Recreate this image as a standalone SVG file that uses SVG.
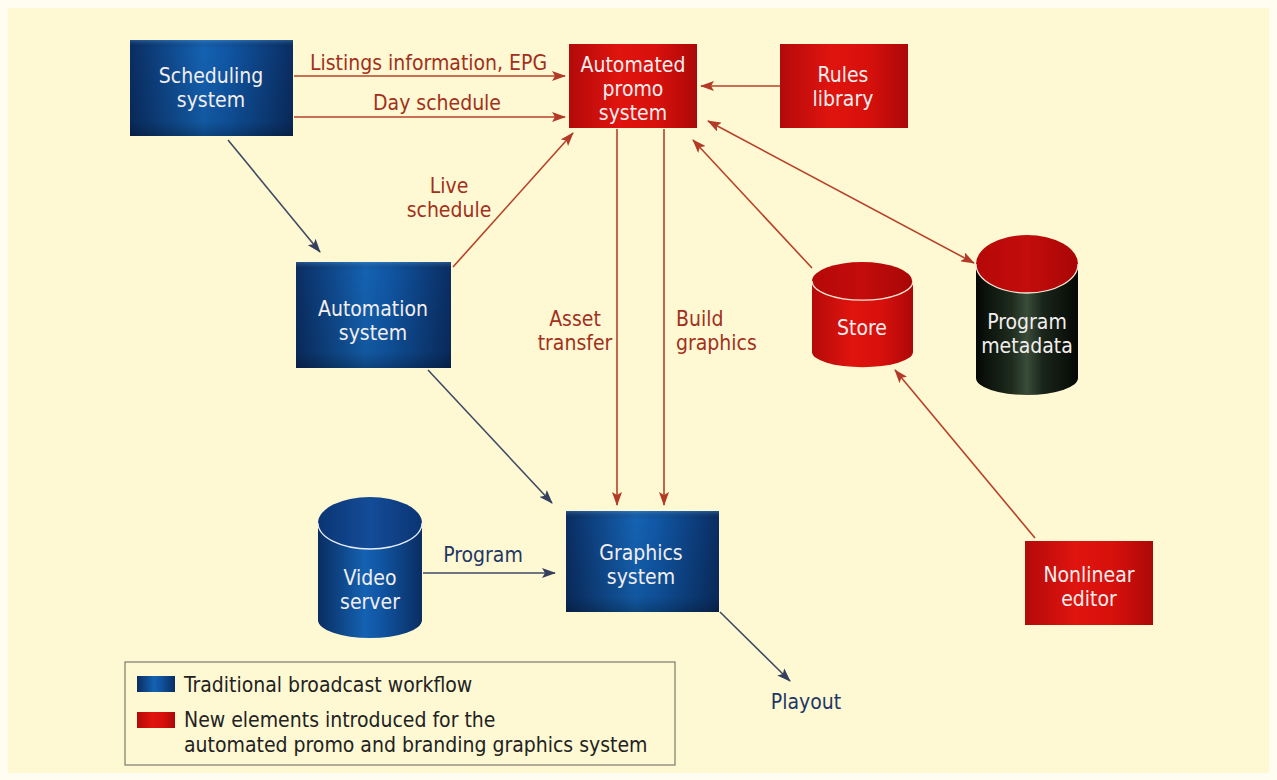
<svg xmlns="http://www.w3.org/2000/svg" width="1277" height="780" viewBox="0 0 1277 780">
<defs>
<linearGradient id="blueH" x1="0" y1="0" x2="1" y2="0">
<stop offset="0" stop-color="#0a2d62"/>
<stop offset="0.45" stop-color="#1462b2"/>
<stop offset="0.6" stop-color="#1056a4"/>
<stop offset="1" stop-color="#0a2d62"/>
</linearGradient>
<linearGradient id="blueV" x1="0" y1="0" x2="0" y2="1">
<stop offset="0" stop-color="#5aa0e0" stop-opacity="0.35"/>
<stop offset="0.08" stop-color="#000" stop-opacity="0"/>
<stop offset="0.85" stop-color="#000" stop-opacity="0.1"/>
<stop offset="1" stop-color="#000" stop-opacity="0.3"/>
</linearGradient>
<linearGradient id="redH" x1="0" y1="0" x2="1" y2="0">
<stop offset="0" stop-color="#b40a0a"/>
<stop offset="0.4" stop-color="#e0140e"/>
<stop offset="0.7" stop-color="#d6100c"/>
<stop offset="1" stop-color="#ac0808"/>
</linearGradient>
<linearGradient id="redTop" x1="0" y1="0" x2="1" y2="0">
<stop offset="0" stop-color="#b50808"/>
<stop offset="0.5" stop-color="#c40c0c"/>
<stop offset="1" stop-color="#a80606"/>
</linearGradient>
<linearGradient id="blkH" x1="0" y1="0" x2="1" y2="0">
<stop offset="0" stop-color="#050805"/>
<stop offset="0.35" stop-color="#1e2c1e"/>
<stop offset="0.5" stop-color="#3a4c3a"/>
<stop offset="0.65" stop-color="#1a261a"/>
<stop offset="1" stop-color="#050805"/>
</linearGradient>
<linearGradient id="blueTop" x1="0" y1="0" x2="1" y2="0">
<stop offset="0" stop-color="#0a3574"/>
<stop offset="0.5" stop-color="#144c98"/>
<stop offset="1" stop-color="#0a3574"/>
</linearGradient>
<marker id="ar" viewBox="0 0 14 10" refX="13" refY="5" markerWidth="14" markerHeight="10" markerUnits="userSpaceOnUse" orient="auto-start-reverse">
<path d="M0,0 L14,5 L0,10 L3,5 Z" fill="#b23a26"/>
</marker>
<marker id="ab" viewBox="0 0 14 10" refX="13" refY="5" markerWidth="14" markerHeight="10" markerUnits="userSpaceOnUse" orient="auto-start-reverse">
<path d="M0,0 L14,5 L0,10 L3,5 Z" fill="#34405e"/>
</marker>
</defs>
<style>
text{font-family:"Liberation Sans Narrow","DejaVu Sans Condensed","Liberation Sans",sans-serif;}
.nt{fill:#f3eeee;font-size:21px;text-anchor:middle;}
.rl{fill:#a2301c;font-size:21px;}
.bl{fill:#1f3767;font-size:21px;}
.lg{fill:#222;font-size:21px;}
.rc{stroke:#b7412a;stroke-width:1.6;fill:none;marker-end:url(#ar);}
.bc{stroke:#3e4a66;stroke-width:1.6;fill:none;marker-end:url(#ab);}
</style>
<rect x="0" y="0" width="1277" height="780" fill="#fffdf2"/>
<rect x="8" y="8" width="1261" height="765" fill="#fef9d3"/>

<g id="connectors">
<line class="rc" x1="294" y1="76" x2="565" y2="76"/>
<line class="rc" x1="294" y1="117" x2="565" y2="117"/>
<line class="rc" x1="780" y1="86" x2="701" y2="86"/>
<line class="bc" x1="228" y1="140" x2="320" y2="252"/>
<line class="rc" x1="453" y1="267" x2="573" y2="133"/>
<line class="rc" x1="617" y1="129" x2="617" y2="505"/>
<line class="rc" x1="664" y1="129" x2="664" y2="505"/>
<line class="rc" x1="812" y1="268" x2="693" y2="140"/>
<line class="rc" x1="708" y1="121" x2="974" y2="263" marker-start="url(#ar)"/>
<line class="rc" x1="1035" y1="538" x2="895" y2="370"/>
<line class="bc" x1="428" y1="370" x2="552" y2="503"/>
<line class="bc" x1="423" y1="573" x2="555" y2="573"/>
<line class="bc" x1="720" y1="612" x2="790" y2="681"/>
<text class="rl" x="310" y="70">Listings information, EPG</text>
<text class="rl" x="373" y="110">Day schedule</text>
<text class="rl" x="449" y="193" text-anchor="middle">Live</text>
<text class="rl" x="449" y="217" text-anchor="middle">schedule</text>
<text class="rl" x="575" y="326" text-anchor="middle">Asset</text>
<text class="rl" x="575" y="350" text-anchor="middle">transfer</text>
<text class="rl" x="676" y="326">Build</text>
<text class="rl" x="676" y="350">graphics</text>
<text class="bl" x="483" y="562" text-anchor="middle">Program</text>
<text class="bl" x="806" y="709" text-anchor="middle">Playout</text>
</g>

<g id="scheduling-system">
<rect x="130" y="40" width="163" height="96" fill="url(#blueH)"/>
<rect x="130" y="40" width="163" height="96" fill="url(#blueV)"/>
<text class="nt" x="211" y="83">Scheduling</text>
<text class="nt" x="211" y="107">system</text>
</g>

<g id="automated-promo-system">
<rect x="569" y="44" width="128" height="84" fill="url(#redH)"/>
<text class="nt" x="633" y="72">Automated</text>
<text class="nt" x="633" y="96">promo</text>
<text class="nt" x="633" y="120">system</text>
</g>

<g id="rules-library">
<rect x="780" y="44" width="128" height="84" fill="url(#redH)"/>
<text class="nt" x="843" y="82">Rules</text>
<text class="nt" x="843" y="106">library</text>
</g>

<g id="automation-system">
<rect x="296" y="262" width="155" height="106" fill="url(#blueH)"/>
<rect x="296" y="262" width="155" height="106" fill="url(#blueV)"/>
<text class="nt" x="373" y="316">Automation</text>
<text class="nt" x="373" y="340">system</text>
</g>

<g id="graphics-system">
<rect x="566" y="511" width="153" height="101" fill="url(#blueH)"/>
<rect x="566" y="511" width="153" height="101" fill="url(#blueV)"/>
<text class="nt" x="641" y="560">Graphics</text>
<text class="nt" x="641" y="584">system</text>
</g>

<g id="video-server">
<path d="M318,523 L318,620 A52,18 0 0 0 422,620 L422,523 Z" fill="url(#blueH)"/>
<ellipse cx="370" cy="523" rx="52" ry="26" fill="url(#blueTop)"/>
<path d="M318,523 A52,26 0 0 0 422,523" fill="none" stroke="#e8eefa" stroke-width="1.3"/>
<text class="nt" x="370" y="585">Video</text>
<text class="nt" x="370" y="609">server</text>
</g>

<g id="store">
<path d="M812,281 L812,352 A50,15 0 0 0 913,352 L913,281 Z" fill="url(#redH)"/>
<ellipse cx="862" cy="281" rx="50" ry="19" fill="url(#redTop)"/>
<path d="M812,281 A50,19 0 0 0 913,281" fill="none" stroke="#fbe6d6" stroke-width="1.3"/>
<text class="nt" x="862" y="335">Store</text>
</g>

<g id="program-metadata">
<path d="M976,264 L976,378 A51,17 0 0 0 1078,378 L1078,264 Z" fill="url(#blkH)"/>
<ellipse cx="1027" cy="264" rx="51" ry="29" fill="url(#redTop)"/>
<path d="M976,264 A51,29 0 0 0 1078,264" fill="none" stroke="#f4e8d6" stroke-width="1.3"/>
<text class="nt" x="1027" y="329">Program</text>
<text class="nt" x="1027" y="353">metadata</text>
</g>

<g id="nonlinear-editor">
<rect x="1025" y="541" width="128" height="84" fill="url(#redH)"/>
<text class="nt" x="1089" y="582">Nonlinear</text>
<text class="nt" x="1089" y="606">editor</text>
</g>

<g id="legend">
<rect x="125" y="662" width="550" height="103" fill="none" stroke="#7a7a70" stroke-width="1.2"/>
<rect x="137" y="676" width="38" height="16" fill="url(#blueH)"/>
<rect x="137" y="712" width="38" height="16" fill="url(#redH)"/>
<text class="lg" x="184" y="692">Traditional broadcast workflow</text>
<text class="lg" x="184" y="727">New elements introduced for the</text>
<text class="lg" x="184" y="752">automated promo and branding graphics system</text>
</g>
</svg>
